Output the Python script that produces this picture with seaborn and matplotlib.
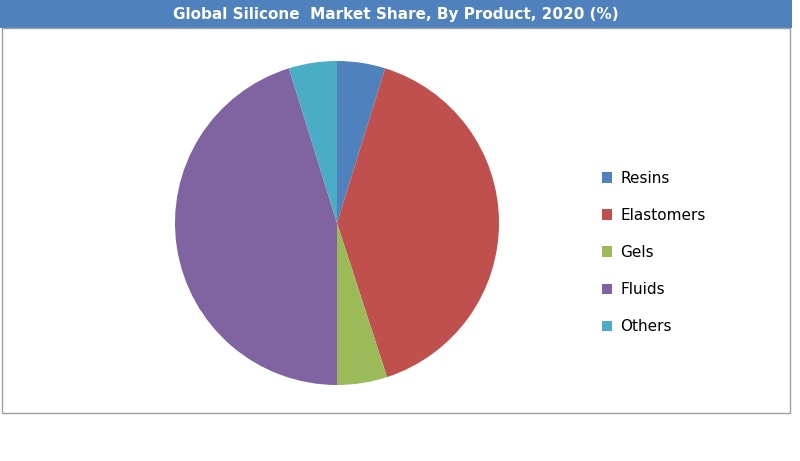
import matplotlib
matplotlib.use("Agg")
import matplotlib.pyplot as plt
import seaborn as sns
from matplotlib.patches import Rectangle

labels = ["Resins", "Elastomers", "Gels", "Fluids", "Others"]
shares = [4.8, 40.2, 5.0, 45.2, 4.8]
colors = ["#4f81bd", "#c0504d", "#9bbb59", "#8064a2", "#4bacc6"]

sns.set_theme(style="white")
W, H = 800, 461
fig = plt.figure(figsize=(W / 100, H / 100), dpi=100)

# title bar and border
fig.patches.append(Rectangle((0, (H - 28) / H), 792 / W, 28 / H, transform=fig.transFigure,
                             facecolor="#4f81bd", edgecolor="none"))
fig.patches.append(Rectangle((2 / W, (H - 413) / H), 788 / W, 385 / H, transform=fig.transFigure,
                             facecolor="none", edgecolor="#a0a0a0", linewidth=1))
fig.text(396 / W, (H - 14) / H, "Global Silicone  Market Share, By Product, 2020 (%)",
         ha="center", va="center", color="white", fontsize=11, fontweight="bold",
         family="DejaVu Sans")

ax = fig.add_axes([175 / W, 76 / H, 324 / W, 324 / H])
wedges, _ = ax.pie(shares, colors=colors, startangle=90, counterclock=False,
                   wedgeprops={"linewidth": 0})
ax.set_xlim(-1, 1)
ax.set_ylim(-1, 1)
ax.set_aspect("equal")

fig.legend(wedges, labels, loc="upper left", bbox_to_anchor=(588 / W, (H - 157) / H),
           frameon=False, fontsize=11, handlelength=0.7, handleheight=0.7,
           labelspacing=1.45, handletextpad=0.5, labelcolor="black")

fig.savefig("out.png", dpi=100)
